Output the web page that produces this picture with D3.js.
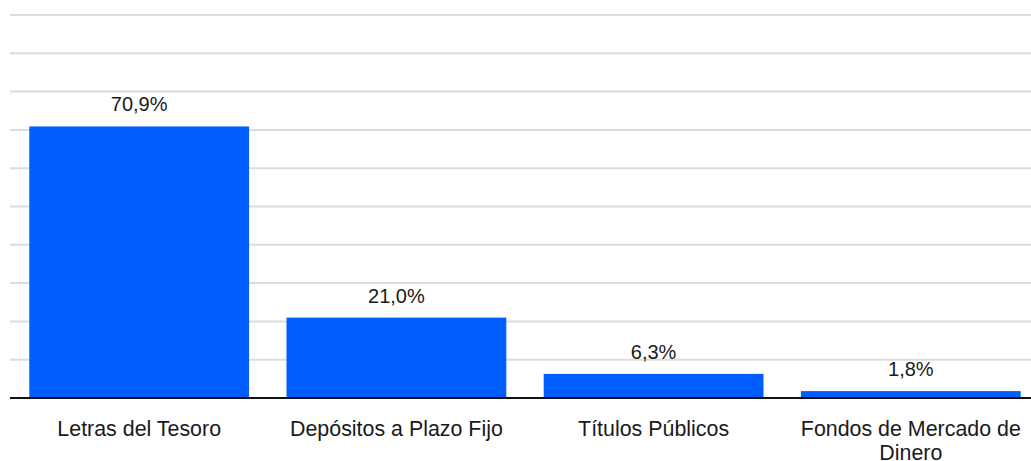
<!DOCTYPE html>
<html>
<head>
<meta charset="utf-8">
<script src="https://cdn.jsdelivr.net/npm/d3@7"></script>
<style>
  body { margin: 0; background: #fff; }
  svg { display: block; font-family: "Liberation Sans", Arial, sans-serif; }
</style>
</head>
<body>
<svg class="chart"></svg>
<script>
const categories = ['Letras del Tesoro', 'Depósitos a Plazo Fijo', 'Títulos Públicos', 'Fondos de Mercado de Dinero'];
const values = [70.9, 21.0, 6.3, 1.8];
const yTicks = [0, 10, 20, 30, 40, 50, 60, 70, 80, 90, 100];

const width = 1031;
const height = 461;
const marginTop = 15;
const marginBottom = 63; // baseline at 398
const marginLeft = 10;

const data = categories.map((c, i) => ({category: c, value: values[i]}));

const svg = d3.select('.chart')
    .attr('width', width)
    .attr('height', height)
    .attr('viewBox', [0, 0, width, height]);

const xScale = d3.scaleBand()
    .domain(categories)
    .range([marginLeft, 1040])
    .paddingInner(0.1455)
    .paddingOuter(0.075);

const yScale = d3.scaleLinear()
    .domain([0, 100])
    .range([height - marginBottom, marginTop]);

// grid lines
svg.append('g')
    .selectAll('line')
    .data(yTicks.slice(1))
    .join('line')
        .attr('x1', marginLeft)
        .attr('x2', width)
        .attr('y1', d => yScale(d))
        .attr('y2', d => yScale(d))
        .attr('stroke', '#dcdcdc')
        .attr('stroke-width', 2);

// bars
svg.append('g')
    .selectAll('rect')
    .data(data)
    .join('rect')
        .attr('x', d => xScale(d.category))
        .attr('y', d => yScale(d.value))
        .attr('width', xScale.bandwidth())
        .attr('height', d => yScale(0) - yScale(d.value))
        .attr('fill', '#005eff');

// value labels
svg.append('g')
    .selectAll('text')
    .data(data)
    .join('text')
        .attr('x', d => xScale(d.category) + xScale.bandwidth() / 2)
        .attr('y', d => yScale(d.value) - 15)
        .attr('text-anchor', 'middle')
        .attr('font-size', 20)
        .attr('fill', '#1a1a1a')
        .text(d => d.value.toFixed(1).replace('.', ',') + '%');

// x axis
const xAxis = d3.axisBottom(xScale).tickSize(0).tickPadding(0);
svg.append('g')
    .attr('transform', `translate(0,${yScale(0)})`)
    .call(xAxis)
    .call(g => g.select('.domain')
        .attr('d', `M${marginLeft},0H${width}`)
        .attr('stroke', '#111')
        .attr('stroke-width', 2))
    .call(g => g.selectAll('.tick text')
        .attr('font-size', 21.4)
        .attr('font-family', '"Liberation Sans", Arial, sans-serif')
        .attr('fill', '#1a1a1a')
        .attr('dy', null)
        .attr('y', 38)
        .call(wrap, xScale.step() - 20));

function wrap(text, maxWidth) {
    text.each(function() {
        const t = d3.select(this);
        const words = t.text().split(/\s+/);
        const y = t.attr('y');
        t.text(null);
        let line = [];
        let lineNo = 0;
        let tspan = t.append('tspan').attr('x', 0).attr('y', y);
        words.forEach(w => {
            line.push(w);
            tspan.text(line.join(' '));
            if (tspan.node().getComputedTextLength() > maxWidth && line.length > 1) {
                line.pop();
                tspan.text(line.join(' '));
                line = [w];
                lineNo++;
                tspan = t.append('tspan').attr('x', 0).attr('y', +y + lineNo * 23.5).text(w);
            }
        });
    });
}
</script>
</body>
</html>
